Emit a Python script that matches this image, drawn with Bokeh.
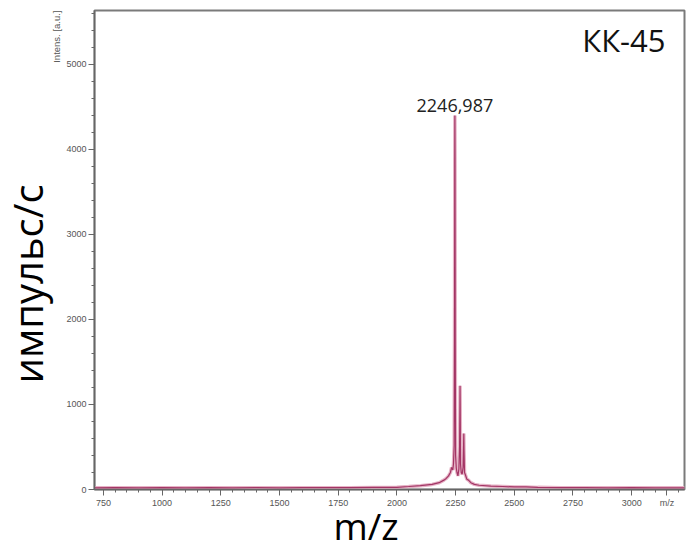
import math
from bokeh.plotting import figure
from bokeh.models import Label, FixedTicker, Range1d, Title
from bokeh.embed import file_html
from bokeh.resources import INLINE

# Spectrum (m/z, intensity in a.u.)
mz = [712, 800, 900, 1000, 1100, 1200, 1300, 1400, 1500, 1600, 1700, 1800, 1900,
      2000, 2050, 2100, 2150, 2180, 2200, 2210, 2220, 2228, 2233, 2238, 2241, 2244,
      2245.5, 2246.5, 2247, 2247.6, 2248.5, 2250, 2253, 2256, 2260, 2264, 2267,
      2268.5, 2269, 2269.6, 2271, 2274, 2278, 2282, 2284, 2285, 2285.8, 2288, 2292,
      2298, 2305, 2315, 2330, 2350, 2400, 2450, 2500, 2550, 2600, 2700, 2800, 2900,
      3000, 3100, 3225]
intensity = [20, 22, 20, 22, 20, 21, 20, 22, 20, 22, 21, 22, 24,
             26, 35, 45, 60, 80, 110, 130, 160, 200, 260, 230, 300, 520,
             1800, 3800, 4400, 3900, 1700, 400, 250, 200, 160, 240, 500,
             1000, 1220, 1000, 300, 200, 180, 260, 520, 660, 480, 200, 170,
             120, 110, 80, 60, 50, 40, 35, 30, 30, 25, 22, 22, 20,
             22, 20, 20]

x_major = [750, 1000, 1250, 1500, 1750, 2000, 2250, 2500, 2750, 3000]
y_major = [0, 1000, 2000, 3000, 4000, 5000]
x_minor = list(range(700, 3250, 50))
y_minor = list(range(0, 5700, 200))
x_unit_pos = 3150          # where the small "m/z" unit sits on the axis

peak_mz = 2247
peak_label = "2246,987"
sample_label = "КК-45"

p = figure(width=691, height=553, output_backend="svg", toolbar_location=None,
           x_range=Range1d(712, 3225), y_range=Range1d(0, 5635),
           min_border_left=94, min_border_right=7, min_border_top=10,
           min_border_bottom=64)
p.background_fill_color = "white"
p.border_fill_color = "white"
p.outline_line_color = "#7a7a7a"
p.outline_line_width = 2
p.xgrid.visible = False
p.ygrid.visible = False

for ax in (p.xaxis[0], p.yaxis[0]):
    ax.axis_line_color = "#666666"
    ax.axis_line_width = 1.5
    ax.major_tick_line_color = "#666666"
    ax.minor_tick_line_color = "#666666"
    ax.major_tick_in = 0
    ax.minor_tick_in = 0
    ax.major_tick_out = 6
    ax.minor_tick_out = 3
    ax.major_label_text_font = "Liberation Sans"
    ax.major_label_text_font_size = "9px"
    ax.major_label_text_color = "#555555"
    ax.major_label_standoff = 2

p.xaxis[0].ticker = FixedTicker(ticks=x_major + [x_unit_pos], minor_ticks=x_minor)
p.xaxis[0].major_label_overrides = {x_unit_pos: "m/z"}
p.yaxis[0].ticker = FixedTicker(ticks=y_major, minor_ticks=y_minor)

# spectrum: light halo + dark trace
p.line(mz, intensity, line_color="#e6b3c6", line_width=3.5)
p.line(mz, intensity, line_color="#a33565", line_width=1.2)

p.add_layout(Label(x=peak_mz, y=4515, text=peak_label, text_align="center",
                   text_baseline="middle", text_font="Open Sans",
                   text_font_size="18px", text_color="#222222"))
p.add_layout(Label(x=571, y=450, x_units="screen", y_units="screen",
                   text=sample_label, text_align="right", text_baseline="middle",
                   text_font="Open Sans", text_font_size="31px", text_color="#111111"))

# outside texts as side-panel titles
p.add_layout(Title(text="Intens. [a.u.]", align="right", offset=0, standoff=4,
                   text_font="Liberation Sans", text_font_size="9.5px",
                   text_font_style="normal", text_color="#555555"), "left")
p.add_layout(Title(text="импульс/с", align="left", offset=106, standoff=-17,
                   text_font="Open Sans", text_font_size="40px",
                   text_font_style="normal", text_color="#000000"), "left")
p.add_layout(Title(text="m/z", align="left", offset=239, standoff=-22,
                   vertical_align="top",
                   text_font="Open Sans", text_font_size="37px",
                   text_font_style="normal", text_color="#000000"), "below")

open("out.html", "w").write(file_html(p, INLINE))
